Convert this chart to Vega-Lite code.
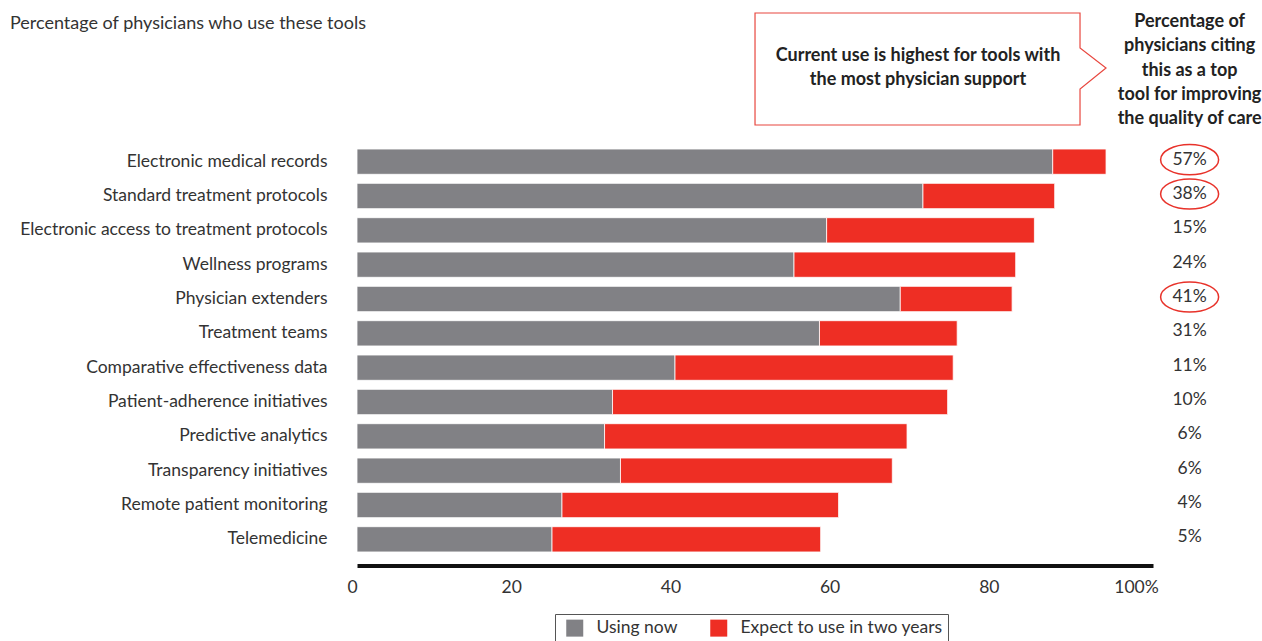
{
  "$schema": "https://vega.github.io/schema/vega-lite/v6.json",
  "autosize": {"type": "none"},
  "width": 796,
  "height": 412,
  "padding": {"left": 357, "top": 144.5, "right": 109, "bottom": 84.5},
  "background": "white",
  "config": {
    "view": {"stroke": null},
    "font": "Lato",
    "text": {"font": "Lato", "color": "#333333"}
  },
  "datasets": {
    "bars": [
      {"tool": "Electronic medical records", "status": "Using now", "k": 0, "v": 87.4},
      {"tool": "Electronic medical records", "status": "Expect to use in two years", "k": 1, "v": 6.7},
      {"tool": "Standard treatment protocols", "status": "Using now", "k": 0, "v": 71.1},
      {"tool": "Standard treatment protocols", "status": "Expect to use in two years", "k": 1, "v": 16.55},
      {"tool": "Electronic access to treatment protocols", "status": "Using now", "k": 0, "v": 59.0},
      {"tool": "Electronic access to treatment protocols", "status": "Expect to use in two years", "k": 1, "v": 26.1},
      {"tool": "Wellness programs", "status": "Using now", "k": 0, "v": 54.9},
      {"tool": "Wellness programs", "status": "Expect to use in two years", "k": 1, "v": 27.85},
      {"tool": "Physician extenders", "status": "Using now", "k": 0, "v": 68.25},
      {"tool": "Physician extenders", "status": "Expect to use in two years", "k": 1, "v": 14.05},
      {"tool": "Treatment teams", "status": "Using now", "k": 0, "v": 58.1},
      {"tool": "Treatment teams", "status": "Expect to use in two years", "k": 1, "v": 17.3},
      {"tool": "Comparative effectiveness data", "status": "Using now", "k": 0, "v": 39.95},
      {"tool": "Comparative effectiveness data", "status": "Expect to use in two years", "k": 1, "v": 34.95},
      {"tool": "Patient-adherence initiatives", "status": "Using now", "k": 0, "v": 32.1},
      {"tool": "Patient-adherence initiatives", "status": "Expect to use in two years", "k": 1, "v": 42.1},
      {"tool": "Predictive analytics", "status": "Using now", "k": 0, "v": 31.1},
      {"tool": "Predictive analytics", "status": "Expect to use in two years", "k": 1, "v": 38.0},
      {"tool": "Transparency initiatives", "status": "Using now", "k": 0, "v": 33.1},
      {"tool": "Transparency initiatives", "status": "Expect to use in two years", "k": 1, "v": 34.15},
      {"tool": "Remote patient monitoring", "status": "Using now", "k": 0, "v": 25.75},
      {"tool": "Remote patient monitoring", "status": "Expect to use in two years", "k": 1, "v": 34.75},
      {"tool": "Telemedicine", "status": "Using now", "k": 0, "v": 24.5},
      {"tool": "Telemedicine", "status": "Expect to use in two years", "k": 1, "v": 33.75}
    ],
    "pct": [
      {"tool": "Electronic medical records", "label": "57%", "circled": true},
      {"tool": "Standard treatment protocols", "label": "38%", "circled": true},
      {"tool": "Electronic access to treatment protocols", "label": "15%", "circled": false},
      {"tool": "Wellness programs", "label": "24%", "circled": false},
      {"tool": "Physician extenders", "label": "41%", "circled": true},
      {"tool": "Treatment teams", "label": "31%", "circled": false},
      {"tool": "Comparative effectiveness data", "label": "11%", "circled": false},
      {"tool": "Patient-adherence initiatives", "label": "10%", "circled": false},
      {"tool": "Predictive analytics", "label": "6%", "circled": false},
      {"tool": "Transparency initiatives", "label": "6%", "circled": false},
      {"tool": "Remote patient monitoring", "label": "4%", "circled": false},
      {"tool": "Telemedicine", "label": "5%", "circled": false}
    ]
  },
  "layer": [
    {
      "data": {"name": "bars"},
      "mark": {"type": "bar", "stroke": "white", "strokeWidth": 0.8},
      "encoding": {
        "x": {
          "field": "v", "type": "quantitative", "stack": "zero",
          "scale": {"domain": [0, 100], "nice": false},
          "axis": {
            "values": [0, 20, 40, 60, 80, 100],
            "labelExpr": "datum.value == 100 ? '100%' : datum.label",
            "title": null, "grid": false, "ticks": false,
            "domainColor": "#111111", "domainWidth": 4, "domainCap": "butt",
            "offset": 9, "labelPadding": 13,
            "labelFont": "Lato", "labelFontSize": 17.5, "labelColor": "#333333",
            "labelOffset": {"condition": {"test": "datum.value == 100", "value": -17}, "value": -5},
            "labelOverlap": false, "labelBound": false, "labelFlush": false
          }
        },
        "y": {
          "field": "tool", "type": "nominal",
          "sort": ["Electronic medical records", "Standard treatment protocols", "Electronic access to treatment protocols", "Wellness programs", "Physician extenders", "Treatment teams", "Comparative effectiveness data", "Patient-adherence initiatives", "Predictive analytics", "Transparency initiatives", "Remote patient monitoring", "Telemedicine"],
          "scale": {"paddingInner": 0.264, "paddingOuter": 0.132},
          "axis": {
            "title": null, "domain": false, "ticks": false, "labelPadding": 30,
            "labelFont": "Lato", "labelFontSize": 17.5, "labelColor": "#333333", "labelLimit": 400
          }
        },
        "color": {
          "field": "status", "type": "nominal",
          "scale": {"domain": ["Using now", "Expect to use in two years"], "range": ["#818185", "#ee2e24"]},
          "legend": {
            "orient": "none", "direction": "horizontal", "legendX": 198, "legendY": 469.5,
            "title": null, "symbolType": "square", "symbolSize": 289, "symbolStrokeWidth": 0,
            "symbolOffset": 6, "labelOffset": 13, "columnPadding": 26, "labelLimit": 400,
            "labelFont": "Lato", "labelFontSize": 17.5, "labelColor": "#333333",
            "padding": 5, "strokeColor": "#555555", "fillColor": "white"
          }
        },
        "order": {"field": "k", "type": "quantitative"}
      }
    },
    {
      "data": {"name": "pct"},
      "mark": {"type": "text", "fontSize": 17.5, "font": "Lato", "color": "#333333", "align": "center", "baseline": "middle", "dy": -2},
      "encoding": {
        "x": {"datum": 104.6, "type": "quantitative"},
        "y": {"field": "tool", "type": "nominal", "sort": null},
        "text": {"field": "label"}
      }
    },
    {
      "data": {"name": "pct"},
      "transform": [{"filter": "datum.circled"}],
      "mark": {"type": "point", "filled": false, "stroke": "#e8322a", "strokeWidth": 1.5, "opacity": 1,
               "shape": "M -1 0 A 1 0.52 0 1 0 1 0 A 1 0.52 0 1 0 -1 0 Z", "size": 3364, "yOffset": -2},
      "encoding": {
        "x": {"datum": 104.6, "type": "quantitative"},
        "y": {"field": "tool", "type": "nominal", "sort": null}
      }
    },
    {
      "data": {"values": [{"t": "Percentage of physicians who use these tools"}]},
      "mark": {"type": "text", "align": "left", "baseline": "alphabetic", "fontSize": 18, "font": "Lato", "color": "#333333", "y": -116},
      "encoding": {
        "x": {"datum": -43.6, "type": "quantitative"},
        "text": {"field": "t"}
      }
    },
    {
      "data": {"values": [{"t": "callout"}]},
      "mark": {"type": "point", "filled": false, "stroke": "#e8473f", "strokeWidth": 1.2, "opacity": 1,
               "shape": "M -1.63 -0.56 L 1.62 -0.56 L 1.62 -0.21 L 1.88 -0.01 L 1.62 0.2 L 1.62 0.56 L -1.63 0.56 Z",
               "size": 40000, "y": -75.5},
      "encoding": {
        "x": {"datum": 70.48, "type": "quantitative"}
      }
    },
    {
      "data": {"values": [{"t": ["Current use is highest for tools with", "the most physician support"]}]},
      "mark": {"type": "text", "align": "center", "baseline": "middle", "fontSize": 18, "fontWeight": "bold", "font": "Lato", "color": "#222222", "lineHeight": 24, "y": -89},
      "encoding": {
        "x": {"datum": 70.48, "type": "quantitative"},
        "text": {"field": "t"}
      }
    },
    {
      "data": {"values": [{"t": ["Percentage of", "physicians citing", "this as a top", "tool for improving", "the quality of care"]}]},
      "mark": {"type": "text", "align": "center", "baseline": "middle", "fontSize": 18, "fontWeight": "bold", "font": "Lato", "color": "#222222", "lineHeight": 24.3, "y": -122.5},
      "encoding": {
        "x": {"datum": 104.6, "type": "quantitative"},
        "text": {"field": "t"}
      }
    }
  ]
}
